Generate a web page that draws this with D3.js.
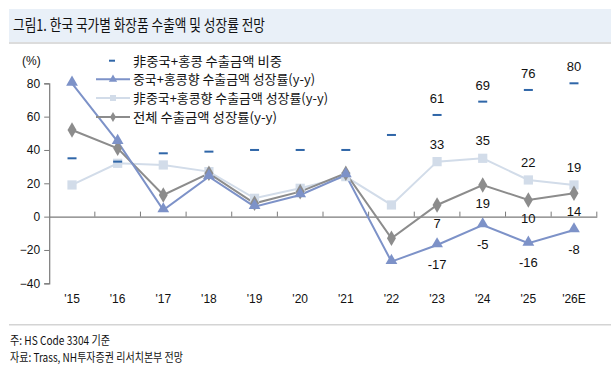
<!DOCTYPE html>
<html><head><meta charset="utf-8">
<script src="https://cdn.jsdelivr.net/npm/d3@7"></script>
<style>body{margin:0;background:#fff}svg{display:block}</style>
</head><body><svg id="c" width="611" height="382"></svg>
<script>
const categories = ["'15","'16","'17","'18","'19","'20","'21","'22","'23","'24","'25","'26E"];
const shareNonChina = [35, 33, 38, 39, 40, 40, 40, 49, 61, 69, 76, 80];
const growthChina = [80, 45, 4, 24, 6, 13, 25, -27, -17, -5, -16, -8];
const growthNonChina = [19, 32, 31, 27, 11, 17, 24, 7, 33, 35, 22, 19];
const growthTotal = [52, 41, 13, 26, 8, 15, 26, -13, 7, 19, 10, 14];
const yTicks = [80, 60, 40, 20, 0, -20, -40];
const legendNames = ["非중국+홍콩 수출금액 비중","중국+홍콩향 수출금액 성장률(y-y)","非중국+홍콩향 수출금액 성장률(y-y)","전체 수출금액 성장률(y-y)"];
const labelFrom = 8;

const svg = d3.select("#c");
const font = "'Liberation Sans', Arial, 'Noto Sans CJK KR', sans-serif";
const kfont = "'Noto Sans CJK KR', 'Liberation Sans', sans-serif";

// title box
svg.append("rect").attr("x",9).attr("y",9).attr("width",602).attr("height",33).attr("fill","#e9f0f8");
svg.append("rect").attr("x",9).attr("y",42).attr("width",602).attr("height",2).attr("fill","#dcdcdc");
svg.append("text").attr("x",13).attr("y",31).attr("font-family",kfont).attr("font-size",15.5).attr("fill","#111")
  .attr("textLength",252).attr("lengthAdjust","spacingAndGlyphs")
  .text("그림1. 한국 국가별 화장품 수출액 및 성장률 전망");

const x = d3.scaleBand().domain(categories).range([49.2, 596.8]);
const y = d3.scaleLinear().domain([-40, 80]).range([283.3, 83.3]);
const cx = d => x(d) + x.bandwidth()/2;
const axisCol = "#7a7a7a";

// y axis
const ya = svg.append("g").attr("transform","translate(49.2,0)")
  .call(d3.axisLeft(y).tickValues(yTicks).tickSize(5).tickPadding(4).tickFormat(d3.format("d")));
ya.select(".domain").attr("stroke",axisCol).attr("stroke-width",1.2);
ya.selectAll(".tick line").attr("stroke",axisCol);
ya.selectAll("text").attr("font-family",font).attr("font-size",12).attr("fill","#111");

// x axis at zero
const xa = svg.append("g").attr("transform",`translate(0,${y(0)})`)
  .call(d3.axisTop(x).tickSize(0).tickFormat(""));
xa.select(".domain").attr("stroke",axisCol).attr("stroke-width",1.2);
const bounds = categories.slice(1).map(c => x(c)).concat([x.range()[1]]);
svg.append("g").selectAll("line").data(bounds).join("line")
  .attr("x1",d=>d).attr("x2",d=>d).attr("y1",y(0)).attr("y2",y(0)-5).attr("stroke",axisCol);
svg.append("g").selectAll("text").data(categories).join("text")
  .attr("x",d=>cx(d)).attr("y",303).attr("text-anchor","middle")
  .attr("font-family",font).attr("font-size",12).attr("fill","#111").text(d=>d);

svg.append("text").attr("x",22).attr("y",65).attr("font-family",font).attr("font-size",12).attr("fill","#111").text("(%)");

const cols = {share:"#2f66a8", china:"#7d92c8", non:"#d2dce9", total:"#8c8c8c"};
const line = d3.line().x((d,i)=>cx(categories[i])).y(d=>y(d));

function drawLine(data, col){ svg.append("path").datum(data).attr("d",line).attr("fill","none").attr("stroke",col).attr("stroke-width",2); }
drawLine(growthNonChina, cols.non);
drawLine(growthTotal, cols.total);
drawLine(growthChina, cols.china);

const tri = d3.symbol().type(d3.symbolTriangle).size(60);
const sq = d3.symbol().type(d3.symbolSquare).size(85);
const dia = d3.symbol().type(d3.symbolDiamond).size(70);

svg.append("g").selectAll("path").data(growthNonChina).join("path")
  .attr("d",sq).attr("transform",(d,i)=>`translate(${cx(categories[i])},${y(d)})`).attr("fill",cols.non);
svg.append("g").selectAll("path").data(growthTotal).join("path")
  .attr("d",dia).attr("transform",(d,i)=>`translate(${cx(categories[i])},${y(d)})`).attr("fill",cols.total);
svg.append("g").selectAll("path").data(growthChina).join("path")
  .attr("d",tri).attr("transform",(d,i)=>`translate(${cx(categories[i])},${y(d)-1})`).attr("fill",cols.china);
svg.append("g").selectAll("rect").data(shareNonChina).join("rect")
  .attr("x",(d,i)=>cx(categories[i])-4.5).attr("y",d=>y(d)-1).attr("width",9).attr("height",2).attr("fill",cols.share);

// data labels
function labels(data, dy){
  svg.append("g").selectAll("text").data(data.map((v,i)=>({v,i})).filter(d=>d.i>=labelFrom)).join("text")
    .attr("x",d=>cx(categories[d.i])).attr("y",d=>y(d.v)+dy).attr("text-anchor","middle")
    .attr("font-family",font).attr("font-size",13).attr("fill","#111").text(d=>d.v);
}
labels(shareNonChina, -12);
labels(growthNonChina, -13);
labels(growthTotal, 23);
labels(growthChina, 24);

// legend
const lg = svg.append("g");
const ly = [60.7, 79.3, 98, 117];
const lw = [149, 182, 195, 144];
lg.append("rect").attr("x",109).attr("y",ly[0]-1).attr("width",6).attr("height",2).attr("fill",cols.share);
[[cols.china, d3.symbolTriangle, 30],[cols.non, d3.symbolSquare, 36],[cols.total, d3.symbolDiamond, 30]].forEach((s,k)=>{
  const yy = ly[k+1];
  lg.append("line").attr("x1",96).attr("x2",130).attr("y1",yy).attr("y2",yy).attr("stroke",s[0]).attr("stroke-width",2);
  lg.append("path").attr("d",d3.symbol().type(s[1]).size(s[2])).attr("transform",`translate(113,${yy})`).attr("fill",s[0]);
});
lg.selectAll("text").data(legendNames).join("text")
  .attr("x",133).attr("y",(d,i)=>ly[i]+5).attr("font-family",kfont).attr("font-size",13).attr("fill","#111")
  .attr("textLength",(d,i)=>lw[i]).attr("lengthAdjust","spacingAndGlyphs").text(d=>d);

// footer
svg.append("rect").attr("x",9).attr("y",324).attr("width",602).attr("height",1.5).attr("fill","#d4d4d4");
svg.append("text").attr("x",10).attr("y",345).attr("font-family",kfont).attr("font-size",12).attr("fill","#111")
  .attr("textLength",100).attr("lengthAdjust","spacingAndGlyphs").text("주: HS Code 3304 기준");
svg.append("text").attr("x",10).attr("y",362).attr("font-family",kfont).attr("font-size",12).attr("fill","#111")
  .attr("textLength",173).attr("lengthAdjust","spacingAndGlyphs").text("자료: Trass, NH투자증권 리서치본부 전망");
</script></body></html>
